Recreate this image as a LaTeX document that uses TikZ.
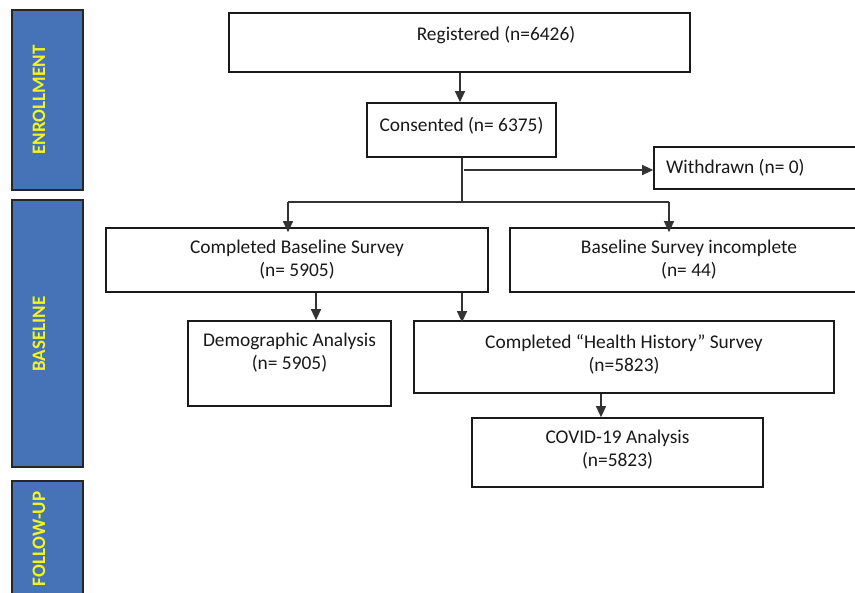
\documentclass[tikz,border=0pt]{standalone}
\usepackage{fontspec}
\setmainfont{Carlito}
\usetikzlibrary{arrows.meta}
\definecolor{barblue}{HTML}{4672B8}
\definecolor{baryellow}{HTML}{F5F51E}
\definecolor{lineblk}{HTML}{1A1A1A}
\begin{document}
\begin{tikzpicture}[x=1pt,y=-1pt,
  box/.style={draw=lineblk,line width=1.6pt,rectangle,inner sep=0pt},
  bar/.style={draw=black!85,fill=barblue,line width=1.4pt,rectangle,inner sep=0pt,minimum width=71pt},
  bartext/.style={rotate=90,text=baryellow,font=\fontsize{19}{21}\selectfont\bfseries},
  txt/.style={font=\fontsize{19.4}{23}\selectfont,align=center,text=black!90,inner sep=0pt},
  conn/.style={draw=black!80,line width=1.2pt},
  arr/.style={conn,-{Triangle[width=10pt,length=11pt]}}]
\clip (0,0) rectangle (855,593);
\fill[white] (0,0) rectangle (855,593);
% side bars
\node[bar,minimum height=180pt] (benr) at (47.5,100) {};
\node[bartext] (tenr) at (39,100) {ENROLLMENT};
\node[bar,minimum height=267pt] (bbase) at (47.5,333.5) {};
\node[bartext] (tbase) at (39,334) {BASELINE};
\node[bar,minimum height=140pt] (bfol) at (47.5,551) {};
\node[bartext] (tfol) at (39,539) {FOLLOW-UP};
% boxes
\node[box,minimum width=461pt,minimum height=59pt] (reg) at (459.5,42.5) {};
\node[txt] (regt) at (496,35) {Registered (n=6426)};
\node[box,minimum width=189pt,minimum height=54pt] (con) at (461.5,130) {};
\node[txt] (cont) at (461.5,126) {Consented (n= 6375)};
\node[box,minimum width=250pt,minimum height=42pt] (wd) at (779,168) {};
\node[txt,anchor=west] (wdt) at (666,168) {Withdrawn (n= 0)};
\node[box,minimum width=382pt,minimum height=64pt] (cbs) at (297,260) {};
\node[txt] (cbst) at (297,259.5) {Completed Baseline Survey\\(n= 5905)};
\node[box,minimum width=380pt,minimum height=64pt] (inc) at (700,260) {};
\node[txt] (inct) at (689,259.5) {Baseline Survey incomplete\\(n= 44)};
\node[box,minimum width=203pt,minimum height=85pt] (dem) at (289.5,363.5) {};
\node[txt] (demt) at (289.5,352.5) {Demographic Analysis\\(n= 5905)};
\node[box,minimum width=420pt,minimum height=72pt] (hh) at (624,357) {};
\node[txt] (hht) at (624,354.5) {Completed “Health History” Survey\\(n=5823)};
\node[box,minimum width=291pt,minimum height=69pt] (cov) at (617.5,452.5) {};
\node[txt] (covt) at (617.5,450) {COVID-19 Analysis\\(n=5823)};
% connectors
\draw[arr] (reg.south -| 460,0) -- (con.north -| 460,0);
\coordinate (j) at (462,202);
\coordinate (jl) at (288,202);
\coordinate (jr) at (669,202);
\coordinate (jw) at (464,170);
\draw[conn] (con.south -| j) -- (j);
\draw[conn] (jl) -- (jr);
\draw[arr] (jw) -- (wd.west |- jw);
\draw[arr] (jl) -- ([yshift=-5pt]cbs.north -| jl);
\draw[arr] (jr) -- ([yshift=-5pt]inc.north -| jr);
\draw[arr] (cbs.south -| 316,0) -- (dem.north -| 316,0);
\draw[arr] (cbs.south -| 462,0) -- ([yshift=-2pt]hh.north -| 462,0);
\draw[arr] (hh.south -| 601,0) -- (cov.north -| 601,0);
\end{tikzpicture}
\end{document}
